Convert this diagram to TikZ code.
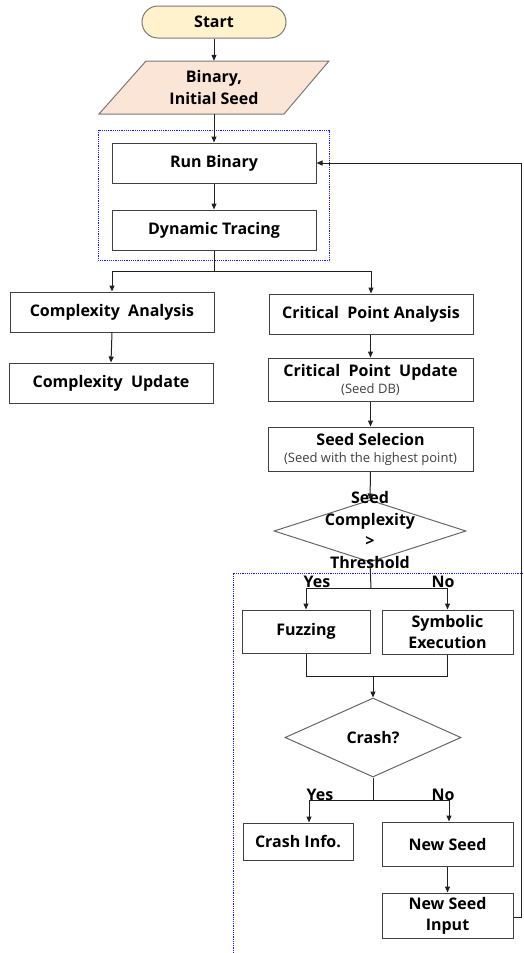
\documentclass[tikz,border=0pt]{standalone}
\usepackage{fontspec}
\setmainfont{Open Sans}
\usetikzlibrary{arrows.meta,shapes.geometric,calc}
\definecolor{linegray}{HTML}{404040}
\definecolor{conncol}{HTML}{202020}
\definecolor{startfill}{HTML}{FFF2CC}
\definecolor{inputfill}{HTML}{FBE5D6}
\definecolor{dotblue}{HTML}{1A1AFF}
\definecolor{subgray}{HTML}{404040}
\begin{document}
\begin{tikzpicture}[x=1pt,y=-1pt,
  every node/.style={font=\fontsize{16}{22}\selectfont\bfseries, text=black, inner sep=0pt},
  box/.style={draw=linegray, line width=1pt, rectangle, align=center, fill=white},
  conn/.style={draw=conncol, line width=1pt},
  arr/.style={conn, -{Triangle[width=5pt,length=6pt]}},
  grp/.style={draw=dotblue, line width=1pt, dash pattern=on 1.2pt off 1pt}
]
\useasboundingbox (0,0) rectangle (523,953);

% group frames
\draw[grp] (98,130) rectangle (329,260);
\draw[grp] (523,573) -- (233,573) -- (233,953);

% start
\node[draw=linegray!70, line width=1pt, fill=startfill, rounded corners=16pt,
      minimum width=144pt, minimum height=32pt] (start) at (214,22) {Start};

% input parallelogram
\node[minimum height=53pt, align=center] (input) at (214,87.5) {Binary,\\Initial Seed};
\filldraw[fill=inputfill, draw=linegray!70, line width=1pt]
  (146,61) -- (329,61) -- (284,114) -- (99,114) -- cycle;
\node[align=center] at (214,87.5) {Binary,\\Initial Seed};

% boxes
\node[box, minimum width=204pt, minimum height=40pt] (run) at (214,163) {Run Binary};
\node[box, minimum width=204pt, minimum height=40pt] (dyn) at (214,230) {Dynamic Tracing};
\node[box, minimum width=204pt, minimum height=40pt] (ca) at (112,312) {Complexity\ \ Analysis};
\node[box, minimum width=204pt, minimum height=40pt] (cu) at (111,383) {Complexity\ \ Update};
\node[box, minimum width=204pt, minimum height=40pt] (cpa) at (371,314) {Critical\ \ Point Analysis};
\node[box, minimum width=205pt, minimum height=43pt] (cpu) at (370.5,379.5)
  {Critical\ \ Point\ \ Update\\[-5pt]{\fontsize{13}{15}\selectfont\mdseries\color{subgray}(Seed DB)}};
\node[box, minimum width=205pt, minimum height=44pt] (ss) at (370.5,449)
  {Seed Selecion\\[-5pt]{\fontsize{13}{15}\selectfont\mdseries\color{subgray}(Seed with the highest point)}};

% decision 1
\node[diamond, draw=linegray!80, line width=1pt, minimum width=192pt, minimum height=62pt, inner sep=0pt] (d1) at (370,531) {};
\node[align=center, font=\fontsize{16}{21.5}\selectfont\bfseries] (d1t) at (370,530) {Seed\\Complexity\\>\\Threshold};

\node[box, minimum width=128pt, minimum height=43pt] (fuzz) at (306,631.5) {Fuzzing};
\node[box, minimum width=131pt, minimum height=44pt] (sym) at (447.5,632) {Symbolic\\[-1pt]Execution};

% decision 2
\node[diamond, draw=linegray!80, line width=1pt, minimum width=176pt, minimum height=79pt, inner sep=0pt] (crash) at (373,737.5) {Crash?};

\node[box, minimum width=110pt, minimum height=37pt] (ci) at (298,841.5) {Crash Info.};
\node[box, minimum width=131pt, minimum height=44pt] (ns) at (447.5,844) {New Seed};
\node[box, minimum width=131pt, minimum height=45pt] (nsi) at (447.5,915.5) {New Seed\\[-1pt]Input};

% labels
\node (y1) at (317,582) {Yes};
\node (n1) at (443,582) {No};
\node (y2) at (320,795) {Yes};
\node (n2) at (443,795) {No};

% connectors
\draw[arr] (start.south) -- (input.north);
\draw[arr] (input.south) -- (run.north);
\draw[arr] (run.south) -- (dyn.north);
\coordinate (s1) at (214,271);
\draw[conn] (dyn.south) -- (s1);
\draw[arr] (s1) -| (ca.north);
\draw[arr] (s1) -| (cpa.north);
\draw[arr] (ca.south) -- (cu.north);
\draw[arr] (cpa.south -| cpu.north) -- (cpu.north);
\draw[arr] (cpu.south) -- (ss.north);
\draw[arr] (ss.south) -- (d1.north);

\coordinate (s2) at (371,588);
\draw[conn] (d1.south) -- (s2);
\draw[arr] (s2) -| (fuzz.north);
\draw[arr] (s2) -| (sym.north);

\coordinate (j1) at (373,676);
\draw[conn] (fuzz.south) |- (j1);
\draw[conn] (sym.south) |- (j1);
\draw[arr] (j1) -- (crash.north);

\coordinate (s3) at (373,800);
\coordinate (cy) at (309,800);
\coordinate (cn) at (449,800);
\draw[conn] (crash.south) -- (s3);
\draw[conn] (cy) -- (cn);
\draw[arr] (cy) -- (cy |- ci.north);
\draw[arr] (cn) -- (cn |- ns.north);
\draw[arr] (ns.south) -- (nsi.north);

\coordinate (lp) at (521,917);
\draw[arr] (nsi.east |- lp) -- (lp) |- (run.east);
\end{tikzpicture}
\end{document}
